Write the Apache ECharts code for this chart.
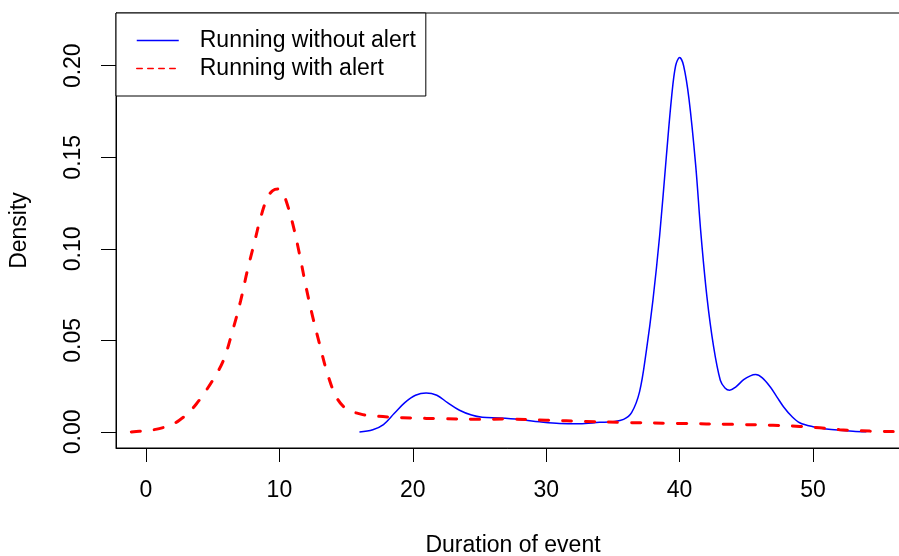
<!DOCTYPE html>
<html>
<head>
<meta charset="utf-8">
<script src="https://cdn.jsdelivr.net/npm/echarts@6/dist/echarts.min.js"></script>
<style>
html, body { margin: 0; padding: 0; background: #fff; }
#chart { width: 899px; height: 556px; }
</style>
</head>
<body>
<div id="chart"></div>
<script>
// densities
const noAlertX = [16.0, 17.0, 17.8, 18.6, 19.4, 20.2, 21.0, 21.8, 22.6, 23.5, 24.4, 25.2, 26.5, 28.0, 29.5, 31.0, 32.5, 34.0, 35.0, 35.8, 36.4, 37.0, 37.5, 38.0, 38.5, 39.0, 39.4, 39.7, 40.0, 40.3, 40.7, 41.2, 41.6, 42.05, 42.55, 43.05, 43.4, 43.75, 44.2, 44.8, 45.3, 45.7, 46.2, 46.8, 47.3, 47.8, 48.4, 49.0, 50.0, 51.0, 52.0, 53.0, 54.0];
const noAlertY = [0.0000, 0.0012, 0.0040, 0.0100, 0.0160, 0.0200, 0.0213, 0.0200, 0.0160, 0.0118, 0.0092, 0.0080, 0.0076, 0.0068, 0.0055, 0.0046, 0.0045, 0.0052, 0.0056, 0.0068, 0.0105, 0.0220, 0.0440, 0.0720, 0.1070, 0.1500, 0.1830, 0.2000, 0.2045, 0.2000, 0.1820, 0.1460, 0.1080, 0.0736, 0.0464, 0.0282, 0.0240, 0.0227, 0.0245, 0.0285, 0.0306, 0.0313, 0.0295, 0.0245, 0.0190, 0.0136, 0.0085, 0.0050, 0.0028, 0.0016, 0.0009, 0.0004, 0.0001];

const alertX = [-1.1, -0.5, 0.0, 1.0, 2.0, 2.5, 3.2, 3.8, 4.4, 5.0, 5.8, 6.5, 7.1, 7.6, 8.1, 8.6, 9.1, 9.5, 9.9, 10.2, 10.5, 11.0, 11.5, 12.0, 12.5, 13.0, 13.6, 14.27, 15.0, 16.1, 17.0, 18.5, 20.0, 22.0, 25.0, 27.0, 30.0, 33.0, 36.0, 40.0, 44.0, 47.0, 49.0, 50.5, 52.0, 53.5, 55.0, 56.5, 58.0];
const alertY = [0.0000, 0.0003, 0.0006, 0.0018, 0.0042, 0.0064, 0.0105, 0.0155, 0.0215, 0.0282, 0.0390, 0.0555, 0.0718, 0.0882, 0.1027, 0.1172, 0.1280, 0.1318, 0.1327, 0.1310, 0.1263, 0.1136, 0.0973, 0.0790, 0.0627, 0.0482, 0.0318, 0.0190, 0.0127, 0.0097, 0.0088, 0.0080, 0.0076, 0.0072, 0.0069, 0.0070, 0.0064, 0.0057, 0.0051, 0.0046, 0.0041, 0.0036, 0.0030, 0.0022, 0.0012, 0.0006, 0.0003, 0.0001, 0.0000];

const seriesNames = ['Running without alert', 'Running with alert'];
const xTicks = [0, 10, 20, 30, 40, 50];
const yTicks = [0, 0.05, 0.10, 0.15, 0.20];

const font = 'Liberation Sans, Arial, sans-serif';
const myChart = echarts.init(document.getElementById('chart'));

const option = {
    animation: false,
    backgroundColor: '#fff',
    grid: {
        left: 116,
        right: -11,
        top: 13,
        bottom: 108,
        outerBoundsMode: 'none',
        show: true,
        borderColor: '#000',
        borderWidth: 1
    },
    legend: {
        orient: 'vertical',
        left: 116,
        top: 13,
        padding: [16, 10, 16, 20],
        itemWidth: 42,
        itemHeight: 22,
        itemGap: 5,
        borderColor: '#000',
        borderWidth: 1,
        backgroundColor: '#fff',
        textStyle: {
            fontFamily: font,
            fontSize: 23,
            lineHeight: 22,
            color: '#000',
            padding: [0, 0, 0, 16]
        },
        data: [
            {
                name: seriesNames[0],
                itemStyle: { opacity: 0 },
                lineStyle: { color: '#0000ff', width: 1.5, type: 'solid' }
            },
            {
                name: seriesNames[1],
                itemStyle: { opacity: 0 },
                lineStyle: { color: '#ff0000', width: 1.5, type: [5.5, 5.5] }
            }
        ]
    },
    xAxis: {
        type: 'value',
        min: -2.25,
        max: 57.27,
        name: 'Duration of event',
        nameLocation: 'middle',
        nameGap: 86,
        nameTextStyle: { fontFamily: font, fontSize: 23, color: '#000' },
        axisLine: { show: true, onZero: false, lineStyle: { color: '#000', width: 1 } },
        axisTick: { show: true, length: 14, customValues: xTicks, lineStyle: { color: '#000', width: 1 } },
        axisLabel: { customValues: xTicks, margin: 31, fontFamily: font, fontSize: 23, color: '#000' },
        splitLine: { show: false }
    },
    yAxis: {
        type: 'value',
        min: -0.0088,
        max: 0.2288,
        name: 'Density',
        nameLocation: 'middle',
        nameGap: 85,
        nameTextStyle: { fontFamily: font, fontSize: 23, color: '#000' },
        axisLine: { show: true, onZero: false, lineStyle: { color: '#000', width: 1 } },
        axisTick: { show: true, length: 15, customValues: yTicks, lineStyle: { color: '#000', width: 1 } },
        axisLabel: {
            customValues: yTicks,
            rotate: 90,
            margin: 31,
            fontFamily: font,
            fontSize: 23,
            color: '#000',
            formatter: (v) => v.toFixed(2)
        },
        splitLine: { show: false }
    },
    series: [
        {
            name: seriesNames[0],
            type: 'line',
            data: noAlertX.map((x, i) => [x, noAlertY[i]]),
            symbol: 'none',
            smooth: 0.35,
            lineStyle: { color: '#0000ff', width: 1.5 },
            itemStyle: { color: '#0000ff' }
        },
        {
            name: seriesNames[1],
            type: 'line',
            data: alertX.map((x, i) => [x, alertY[i]]),
            symbol: 'none',
            smooth: 0.35,
            lineStyle: { color: '#ff0000', width: 3, type: [9, 14], cap: 'round' },
            itemStyle: { color: '#ff0000' }
        }
    ]
};

option && myChart.setOption(option);
</script>
</body>
</html>
